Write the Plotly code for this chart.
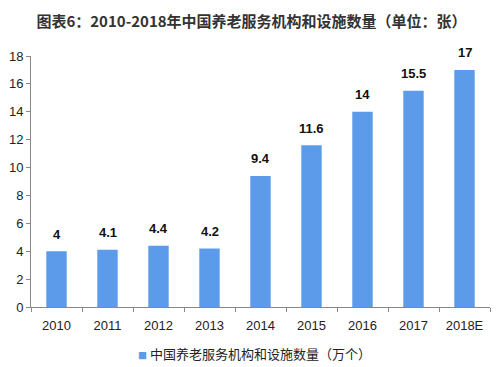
import plotly.graph_objects as go

years = ["2010", "2011", "2012", "2013", "2014", "2015", "2016", "2017", "2018E"]
values = [4, 4.1, 4.4, 4.2, 9.4, 11.6, 14, 15.5, 17]
labels = ["4", "4.1", "4.4", "4.2", "9.4", "11.6", "14", "15.5", "17"]
series_name = "中国养老服务机构和设施数量（万个）"
title = "图表6：2010-2018年中国养老服务机构和设施数量（单位：张）"
bar_color = "#5B9BEA"

fig = go.Figure()
fig.add_trace(go.Bar(
    x=years, y=values, name=series_name,
    marker=dict(color=bar_color, line=dict(width=0)),
    width=0.4, showlegend=False,
))
for i, (v, lb) in enumerate(zip(values, labels)):
    fig.add_annotation(x=i, y=v, xref="x", yref="y", text="<b>" + lb + "</b>", showarrow=False,
                       yshift=17, yanchor="middle",
                       font=dict(family="Liberation Sans, Arial, sans-serif", size=13, color="#111111"))

# legend drawn as a text line (small square + name)
fig.add_annotation(
    xref="paper", yref="paper", x=(254 - 31) / 459, y=(307 - 353) / 251,
    xanchor="center", yanchor="middle", showarrow=False,
    text="<span style='color:%s;font-size:9px'>■</span> %s" % (bar_color, series_name),
    font=dict(family="Noto Sans CJK SC, sans-serif", size=13, color="#222222"),
)

fig.update_layout(
    width=503, height=367,
    margin=dict(l=31, r=13, t=56, b=60, autoexpand=False),
    paper_bgcolor="white", plot_bgcolor="white",
    title=dict(text="<b>" + title + "</b>", x=0.5, xanchor="center", y=1 - 22 / 367, yanchor="middle",
               font=dict(family="Noto Sans CJK SC, sans-serif", size=15, color="#333333")),
    showlegend=False,
    font=dict(family="Liberation Sans, Arial, sans-serif", size=13, color="#222222"),
)
fig.update_xaxes(
    type="category", categoryorder="array", categoryarray=years,
    showline=True, linecolor="#888888", linewidth=1,
    ticks="outside", ticklen=4, tickcolor="#888888", tickson="boundaries",
    tickfont=dict(size=13, color="#222222"), showgrid=False, tickangle=0,
    ticklabelstandoff=6,
)
fig.update_yaxes(
    range=[0, 18], dtick=2, showline=True, linecolor="#888888", linewidth=1,
    ticks="outside", ticklen=4, tickcolor="#888888", showgrid=False, zeroline=False,
    tickfont=dict(size=13, color="#222222"),
)
fig.write_html("out.html", config={"displayModeBar": False},
               post_script="document.body.style.margin='0';document.body.style.padding='0';")
